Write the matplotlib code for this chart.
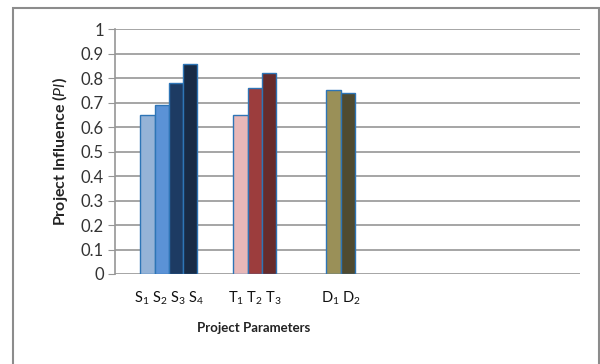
import matplotlib

matplotlib.use('Agg')
import matplotlib.pyplot as plt
from matplotlib.patches import Rectangle

# parameter groups and their influence values
groups = ['S', 'T', 'D']
group_labels = [r'S$_1$ S$_2$ S$_3$ S$_4$', r'T$_1$ T$_2$ T$_3$', r'D$_1$ D$_2$']
values = {
    'S': [0.65, 0.69, 0.78, 0.86],
    'T': [0.65, 0.76, 0.82],
    'D': [0.75, 0.74],
}
colors = {
    'S': ['#95b3d7', '#5b92d6', '#1d3b63', '#182b46'],
    'T': ['#e8b8b8', '#9c3d3d', '#672b2b'],
    'D': ['#9a9058', '#4f4a30'],
}

plt.rcParams['font.family'] = ['Lato', 'DejaVu Sans']
plt.rcParams['mathtext.fontset'] = 'custom'
plt.rcParams['mathtext.rm'] = 'Lato'
plt.rcParams['mathtext.it'] = 'Lato:italic'
plt.rcParams['mathtext.bf'] = 'Lato:bold'

fig = plt.figure(figsize=(6, 3.64), dpi=100)
ax = fig.add_axes([0.1917, 0.2473, 0.775, 0.6723])

w = 1 / 6
for i, g in enumerate(groups):
    vals = values[g]
    n = len(vals)
    for j, v in enumerate(vals):
        ax.bar(i + (j - (n - 1) / 2) * w, v, width=w, color=colors[g][j],
               edgecolor='#2e75b6', linewidth=1.0, zorder=3)

ax.set_ylim(0, 1)
ax.set_xlim(-0.627, 4.79)
ax.set_yticks([i / 10 for i in range(11)])
ax.set_yticklabels(['0'] + [f'0.{i}' for i in range(1, 10)] + ['1'])
ax.yaxis.grid(True, color='#969696', linewidth=1.2, zorder=0)
ax.set_xticks(range(len(groups)))
ax.set_xticklabels(group_labels, fontsize=10.5, color='#111111')
ax.tick_params(axis='x', length=0, pad=11)
ax.tick_params(axis='y', length=5, color='#969696', labelsize=12, labelcolor='#333333', pad=3)

for s in ['top', 'right', 'bottom']:
    ax.spines[s].set_visible(False)
ax.spines['left'].set_color('#969696')
ax.spines['left'].set_linewidth(1.2)

ax.set_ylabel('Project Influence ($\\mathbf{\\mathit{PI}}$)', fontsize=11.5, fontweight='bold',
              color='#222222', labelpad=8)
fig.text(0.422, 0.10, 'Project Parameters', fontsize=9.5, fontweight='bold',
         color='#222222', ha='center', va='center')

# outer chart frame
fig.patches.append(Rectangle((0.021, -0.05), 0.977, 1.028, transform=fig.transFigure,
                             fill=False, edgecolor='#8c8c8c', linewidth=1.5))

fig.savefig('out.png', dpi=100)
